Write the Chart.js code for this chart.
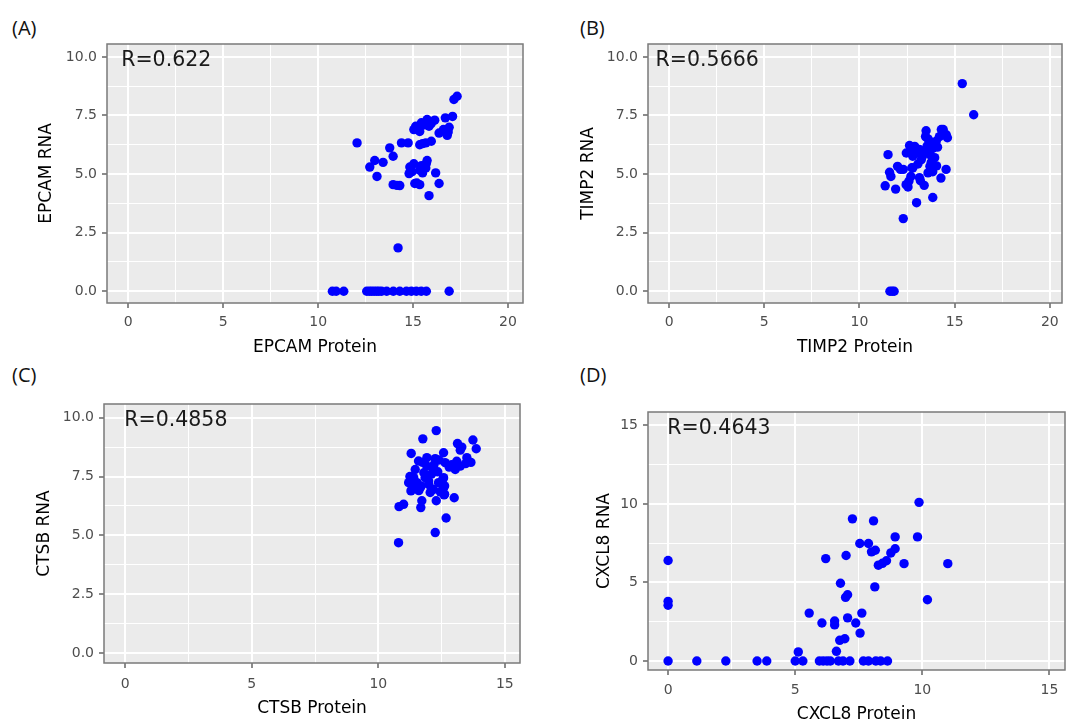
<!DOCTYPE html>
<html>
<head>
<meta charset="utf-8">
<script src="https://cdn.jsdelivr.net/npm/chart.js@4.4.1/dist/chart.umd.min.js"></script>
<style>
  html, body { margin: 0; padding: 0; background: #ffffff; }
  body { width: 1072px; height: 725px; position: relative; overflow: hidden; }
  .panel { position: absolute; }
  .lab { position: absolute; font-family: "Open Sans", sans-serif; font-size: 20px; line-height: 20px; color: #111; }
</style>
</head>
<body>
<div class="lab" style="left:12px;top:18px;">(A)</div>
<div class="lab" style="left:580px;top:18px;">(B)</div>
<div class="lab" style="left:12px;top:365px;">(C)</div>
<div class="lab" style="left:580px;top:365px;">(D)</div>

<div class="panel" style="left:0px;top:0px;"><canvas id="cA" width="540" height="360"></canvas></div>
<div class="panel" style="left:540px;top:0px;"><canvas id="cB" width="532" height="360"></canvas></div>
<div class="panel" style="left:0px;top:360px;"><canvas id="cC" width="540" height="365"></canvas></div>
<div class="panel" style="left:540px;top:360px;"><canvas id="cD" width="532" height="365"></canvas></div>

<script>
// ---------------- DATA ----------------
// Panel A: EPCAM (protein, RNA)
const epcamProtein = [10.75,10.95,11.35,12.56,12.7,12.82,12.95,13.08,13.2,13.34,13.61,13.96,14.3,14.65,14.91,15.17,15.43,15.7,16.9,
  14.21,12.05,17.32,17.15,17.08,16.7,16.9,16.8,16.6,16.85,
  15.74,16.14,15.44,15.14,15.04,15.35,15.84,16.37,15.6,15.95,
  14.39,14.74,15.35,15.67,15.96,15.5,
  13.77,13.95,13.42,12.98,12.72,13.1,
  13.95,14.3,14.15,
  14.83,14.79,15.04,15.44,15.74,15.67,15.35,15.09,15.35,16.19,16.37,15.84,14.95,15.5,15.2,15.7];
const epcamRNA = [0,0,0,0,0,0,0,0,0,0,0,0,0,0,0,0,0,0,0,
  1.85,6.33,8.32,8.18,7.46,7.4,7.0,6.65,6.9,6.8,
  7.33,7.3,7.19,7.04,6.9,6.82,7.04,6.75,7.1,7.15,
  6.33,6.33,6.25,6.33,6.4,6.3,
  6.12,5.76,5.5,5.58,5.3,4.9,
  4.55,4.51,4.52,
  5.3,5.02,5.44,5.36,5.58,5.26,5.17,4.6,4.55,5.05,4.6,4.08,5.1,5.05,4.62,5.45];

// Panel B: TIMP2
const timp2Protein = [15.4,16.0,12.3,13.0,13.85,11.5,11.35,11.9,11.65,11.58,12.0,12.15,12.6,12.45,12.7,12.75,13.2,13.4,13.15,14.28,
  14.55,13.6,13.7,12.63,12.9,12.46,12.8,13.15,13.42,13.25,13.7,13.85,14.03,13.69,13.5,13.47,14.3,14.56,14.62,14.2,
  13.95,13.77,13.07,12.8,12.3,13.0,13.3,13.55,13.9,14.1,14.4,13.6,12.7,12.55,13.85,14.05,11.6,11.72,11.82];
const timp2RNA = [8.86,7.53,3.1,3.78,4.0,5.83,4.5,4.36,4.9,5.08,5.33,5.2,4.7,4.55,4.9,5.27,4.72,4.52,4.85,4.83,
  5.2,5.05,5.33,6.22,6.18,5.9,5.76,6.05,6.0,5.62,5.83,6.1,6.4,6.4,6.85,6.6,6.9,6.68,6.55,6.6,
  5.7,5.5,5.43,5.26,5.2,5.9,5.75,6.2,6.25,6.15,6.9,6.5,6.1,4.45,5.1,5.35,0,0,0];

// Panel C: CTSB
const ctsbProtein = [12.29,11.76,10.8,12.25,12.68,13.0,12.29,12.6,10.82,11.0,11.68,11.72,11.3,13.74,13.87,13.66,13.13,13.24,13.3,11.59,
  11.92,12.25,12.58,12.64,13.04,13.24,13.45,12.18,11.8,11.4,11.2,11.33,11.66,11.99,12.18,12.38,12.58,12.58,12.05,11.53,
  11.46,11.92,12.62,12.62,12.55,11.69,11.35,11.29,12.2,12.4,12.9,13.5,13.1,11.85,12.1,12.35,11.6,12.8,11.5,11.25,
  11.75,12.0,12.45];
const ctsbRNA = [9.45,9.1,4.69,5.12,5.74,6.6,6.47,6.72,6.22,6.32,6.18,6.47,8.48,9.05,8.68,8.1,8.9,8.62,8.75,8.16,
  8.3,8.26,8.51,8.09,7.8,7.94,8.05,7.8,7.66,7.45,7.24,6.95,7.03,7.31,6.95,7.24,7.45,7.03,6.82,7.24,
  7.8,7.94,6.75,7.1,7.38,7.1,7.24,6.89,8.0,8.2,8.0,8.3,8.15,7.45,7.6,7.7,6.9,7.9,7.0,7.5,
  8.1,7.15,6.85];

// Panel D: CXCL8
const cxcl8Protein = [0,0,0,0,1.13,2.27,3.5,3.88,5.0,5.3,5.12,5.55,5.95,6.1,6.25,6.38,6.05,6.2,6.55,6.55,
  6.62,6.7,6.75,6.95,6.78,6.88,7.0,6.98,7.06,7.06,7.15,7.25,7.38,7.55,7.54,7.62,7.68,7.88,7.88,8.0,
  8.08,8.15,8.13,8.17,8.27,8.36,8.43,8.59,8.63,8.76,8.93,8.93,9.28,9.81,9.87,10.2,11.0];
const cxcl8RNA = [0,6.4,3.8,3.55,0,0,0,0,0,0,0.58,3.05,0,0,0,0,2.42,6.52,2.55,2.3,
  0.62,0,1.32,1.42,4.95,0,6.72,4.05,4.22,2.75,0,9.05,2.42,1.78,7.48,3.05,0,7.48,0,6.95,
  8.92,7.05,4.72,0,6.1,0,6.22,6.38,0,6.88,7.15,7.9,6.2,7.9,10.1,3.9,6.2];

// Tick values
const xMajor20 = [0, 5, 10, 15, 20];
const xMinor20 = [2.5, 7.5, 12.5, 17.5];
const xMajor15 = [0, 5, 10, 15];
const xMinor15 = [2.5, 7.5, 12.5];
const yMajor10 = [0, 2.5, 5, 7.5, 10];
const yMinor10 = [1.25, 3.75, 6.25, 8.75];
const yMajor15 = [0, 5, 10, 15];
const yMinor15 = [2.5, 7.5, 12.5];

// Labels
const rLabels = ['R=0.622', 'R=0.5666', 'R=0.4858', 'R=0.4643'];
const xTitles = ['EPCAM Protein', 'TIMP2 Protein', 'CTSB Protein', 'CXCL8 Protein'];
const yTitles = ['EPCAM RNA', 'TIMP2 RNA', 'CTSB RNA', 'CXCL8 RNA'];

// ---------------- RENDERING ----------------
const FONT = '"DejaVu Sans", sans-serif';

const panelBg = {
  id: 'panelBg',
  beforeDraw(chart) {
    const a = chart.chartArea, ctx = chart.ctx;
    ctx.save();
    ctx.fillStyle = '#EBEBEB';
    ctx.fillRect(a.left, a.top, a.right - a.left, a.bottom - a.top);
    ctx.restore();
  },
  afterDraw(chart) {
    const a = chart.chartArea, ctx = chart.ctx;
    ctx.save();
    ctx.strokeStyle = '#7A7A7A';
    ctx.lineWidth = 1.5;
    ctx.strokeRect(a.left, a.top, a.right - a.left, a.bottom - a.top);
    ctx.restore();
  }
};

const rText = {
  id: 'rText',
  afterDatasetsDraw(chart, args, opts) {
    const ctx = chart.ctx, xs = chart.scales.x, ys = chart.scales.y;
    ctx.save();
    ctx.font = '20.5px ' + FONT;
    ctx.fillStyle = '#1A1A1A';
    ctx.textAlign = 'center';
    ctx.textBaseline = 'middle';
    ctx.fillText(opts.text, xs.getPixelForValue(opts.x), ys.getPixelForValue(opts.y) + opts.dy);
    ctx.restore();
  }
};

function axisOpts(o) {
  const all = o.major.concat(o.minor).sort((a, b) => a - b);
  const isMaj = v => o.major.includes(v);
  return {
    type: 'linear',
    position: o.position,
    min: o.min,
    max: o.max,
    afterBuildTicks: s => { s.ticks = all.map(v => ({ value: v })); },
    afterFit: s => { if (o.position === 'left') s.width = o.size; else s.height = o.size; },
    grid: {
      color: '#FFFFFF',
      lineWidth: c => (c.tick && isMaj(c.tick.value)) ? 2 : 1,
      drawTicks: true,
      tickLength: 5,
      tickWidth: 1.3,
      tickColor: c => (c.tick && isMaj(c.tick.value)) ? '#4D4D4D' : 'rgba(0,0,0,0)'
    },
    border: { display: false },
    ticks: {
      autoSkip: false,
      maxRotation: 0,
      minRotation: 0,
      padding: o.tickPad,
      color: '#4D4D4D',
      font: { family: FONT, size: 14 },
      callback: v => isMaj(v) ? (o.fmt ? o.fmt(v) : String(v)) : ''
    },
    title: {
      display: true,
      text: o.title,
      color: '#000000',
      font: { family: FONT, size: 17 },
      padding: o.titlePad
    }
  };
}

function makePanel(id, p) {
  new Chart(document.getElementById(id), {
    type: 'scatter',
    data: {
      datasets: [{
        data: p.xs.map((v, i) => ({ x: v, y: p.ys[i] })),
        backgroundColor: '#0000FF',
        borderColor: '#0000FF',
        borderWidth: 0,
        pointRadius: 4.7,
        pointHoverRadius: 4.7
      }]
    },
    options: {
      responsive: false,
      animation: false,
      devicePixelRatio: 1,
      layout: { padding: p.pad },
      plugins: {
        legend: { display: false },
        tooltip: { enabled: false },
        rText: { text: p.r, x: 2, y: p.rY, dy: 3.5 }
      },
      scales: {
        x: axisOpts({ position: 'bottom', min: p.xMin, max: p.xMax, major: p.xMajor, minor: p.xMinor,
                      size: p.xSize, tickPad: p.xTickPad, title: p.xTitle, titlePad: { top: 0, bottom: p.xTitlePad } }),
        y: axisOpts({ position: 'left', min: p.yMin, max: p.yMax, major: p.yMajor, minor: p.yMinor,
                      size: p.ySize, tickPad: 5, title: p.yTitle, titlePad: { top: p.yTitlePad, bottom: 0 }, fmt: p.yFmt })
      }
    },
    plugins: [panelBg, rText]
  });
}

const f1 = v => v.toFixed(1);

makePanel('cA', {
  xs: epcamProtein, ys: epcamRNA, r: rLabels[0], rY: 10,
  xMin: -1.12, xMax: 20.79, yMin: -0.5, yMax: 10.55,
  xMajor: xMajor20, xMinor: xMinor20, yMajor: yMajor10, yMinor: yMinor10, yFmt: f1,
  pad: { left: 0, top: 44, right: 17, bottom: 0 }, ySize: 107, xSize: 57,
  xTickPad: 6, xTitlePad: 2, yTitlePad: 36, xTitle: xTitles[0], yTitle: yTitles[0]
});
makePanel('cB', {
  xs: timp2Protein, ys: timp2RNA, r: rLabels[1], rY: 10,
  xMin: -1.11, xMax: 20.64, yMin: -0.5, yMax: 10.55,
  xMajor: xMajor20, xMinor: xMinor20, yMajor: yMajor10, yMinor: yMinor10, yFmt: f1,
  pad: { left: 0, top: 44, right: 10, bottom: 0 }, ySize: 108, xSize: 57,
  xTickPad: 6, xTitlePad: 2, yTitlePad: 38, xTitle: xTitles[1], yTitle: yTitles[1]
});
makePanel('cC', {
  xs: ctsbProtein, ys: ctsbRNA, r: rLabels[2], rY: 10,
  xMin: -0.84, xMax: 15.6, yMin: -0.42, yMax: 10.58,
  xMajor: xMajor15, xMinor: xMinor15, yMajor: yMajor10, yMinor: yMinor10, yFmt: f1,
  pad: { left: 0, top: 44, right: 20, bottom: 0 }, ySize: 104, xSize: 62,
  xTickPad: 8, xTitlePad: 6, yTitlePad: 34, xTitle: xTitles[2], yTitle: yTitles[2]
});
makePanel('cD', {
  xs: cxcl8Protein, ys: cxcl8RNA, r: rLabels[3], rY: 15,
  xMin: -0.79, xMax: 15.61, yMin: -0.57, yMax: 15.85,
  xMajor: xMajor15, xMinor: xMinor15, yMajor: yMajor15, yMinor: yMinor15, yFmt: v => String(v),
  pad: { left: 0, top: 52, right: 7, bottom: 0 }, ySize: 108, xSize: 55,
  xTickPad: 7, xTitlePad: 0, yTitlePad: 54, xTitle: xTitles[3], yTitle: yTitles[3]
});
</script>
</body>
</html>
